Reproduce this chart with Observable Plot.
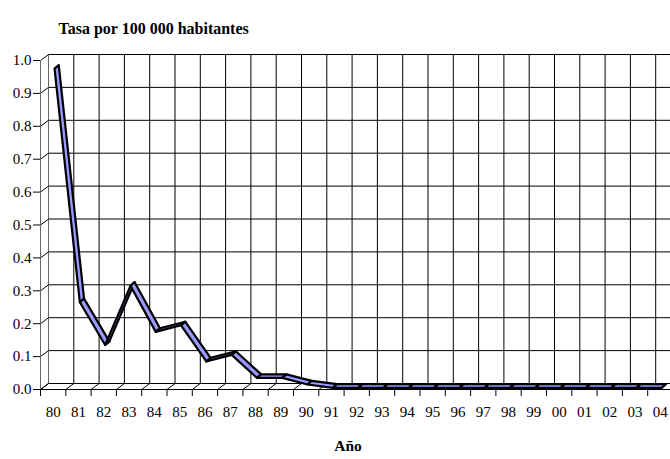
<!DOCTYPE html>
<html>
<head>
<meta charset="utf-8">
<script src="https://cdn.jsdelivr.net/npm/d3@7"></script>
<script src="https://cdn.jsdelivr.net/npm/@observablehq/plot@0.6"></script>
<style>
  html, body { margin: 0; padding: 0; background: white; }
  #chart { width: 670px; height: 459px; overflow: hidden; }
  #chart svg, #chart svg g, #chart svg text { font-family: "Liberation Serif", "DejaVu Serif", "Times New Roman", Times, serif !important; }
</style>
</head>
<body>
<div id="chart"></div>
<script>
// ---- data ----
const years = ["80","81","82","83","84","85","86","87","88","89","90","91","92","93","94","95","96","97","98","99","00","01","02","03","04"];
const values = [0.97, 0.26, 0.13, 0.31, 0.17, 0.19, 0.08, 0.10, 0.03, 0.03, 0.01, 0, 0, 0, 0, 0, 0, 0, 0, 0, 0, 0, 0, 0, 0];
const yTicks = [0, 0.1, 0.2, 0.3, 0.4, 0.5, 0.6, 0.7, 0.8, 0.9, 1.0];
const titleText = "Tasa por 100 000 habitantes";
const xTitle = "Año";

// ---- layout ----
const W = 670, H = 459;
const mLeft = 40, mTop = 60, mBottom = 70;
const xRight = 672.5;
const nCat = years.length;
const catW = (xRight - mLeft) / nCat;          // px per category
const valPx = (H - mBottom - mTop);            // px per 1.0
const serif = "Liberation Serif, DejaVu Serif, Times New Roman, serif";
// 3D depth (pixels) converted to data units
const depthX = 8 / catW, depthY = 6 / valPx;
const ribFrontX = 1.9 / catW, ribFrontY = 1.2 / valPx;
const ribBackX = 6.1 / catW, ribBackY = 4.8 / valPx;

const boundaries = d3.range(nCat + 1);
const centers = d3.range(nCat).map(i => i + 0.5);

// ribbon segments (each a parallelogram)
const seg = [];
for (let i = 0; i < nCat - 1; i++) {
  for (const j of [i, i + 1]) {
    seg.push({s: i, xf: j + 0.5 + ribFrontX, yf: values[j] + ribFrontY,
              xb: j + 0.5 + ribBackX, yb: values[j] + ribBackY});
  }
}

const chart = Plot.plot({
  width: W, height: H,
  marginLeft: mLeft, marginTop: mTop, marginBottom: mBottom, marginRight: 0,
  style: {fontFamily: serif, fontSize: "15px", background: "white", color: "black"},
  x: {domain: [0, nCat], range: [mLeft, xRight], axis: null},
  y: {domain: [0, 1], axis: null},
  marks: [
    // back wall grid
    Plot.ruleY(yTicks, {y: d => d, x1: 0, x2: nCat + 1, dx: 8, dy: -6, stroke: "#000", strokeWidth: 1}),
    Plot.ruleX(boundaries.slice(1), {x: d => d, y1: 0, y2: 1, dx: 8, dy: -6, stroke: "#000", strokeWidth: 1}),
    Plot.ruleX([0], {x: d => d, y1: 0, y2: 1, dx: 8, dy: -6, stroke: "#666", strokeWidth: 1}),
    // side wall diagonals
    Plot.link(yTicks, {x1: 0, y1: d => d, x2: depthX, y2: d => d + depthY, stroke: "#000", strokeWidth: 1}),
    // floor diagonals
    Plot.link(boundaries, {x1: d => d, y1: 0, x2: d => d + depthX, y2: depthY, stroke: "#000", strokeWidth: 1}),
    // front axis lines
    Plot.ruleX([0], {x: d => d, y1: 0, y2: 1, stroke: "#666", strokeWidth: 1}),
    Plot.ruleY([0], {y: d => d, x1: 0, x2: nCat, stroke: "#000", strokeWidth: 1}),
    // ribbon
    Plot.area(seg, {x1: "xf", y1: "yf", x2: "xb", y2: "yb", z: "s", fill: "#9999ff", stroke: "#000", strokeWidth: 2.2, strokeLinejoin: "round"}),
    // axes
    Plot.axisY(yTicks, {anchor: "left", tickSize: 7, tickPadding: 2, tickFormat: d3.format(".1f"), label: null, fontSize: 15, fontFamily: serif}),
    Plot.axisX(boundaries, {anchor: "bottom", tickSize: 7, tickFormat: () => "", label: null}),
    Plot.axisX(centers, {anchor: "bottom", tickSize: 0, tickPadding: 17, tickFormat: d => years[Math.floor(d)], label: null, fontSize: 15, fontFamily: serif}),
    // titles
    Plot.text([titleText], {frameAnchor: "top-left", textAnchor: "start", dx: 18, dy: -38, fontWeight: "bold", fontSize: 16, fontFamily: serif}),
    Plot.text([xTitle], {frameAnchor: "bottom", dx: -7.5, dy: 61.5, fontWeight: "bold", fontSize: 15.5, fontFamily: serif})
  ]
});
document.getElementById("chart").appendChild(chart);
</script>
</body>
</html>
